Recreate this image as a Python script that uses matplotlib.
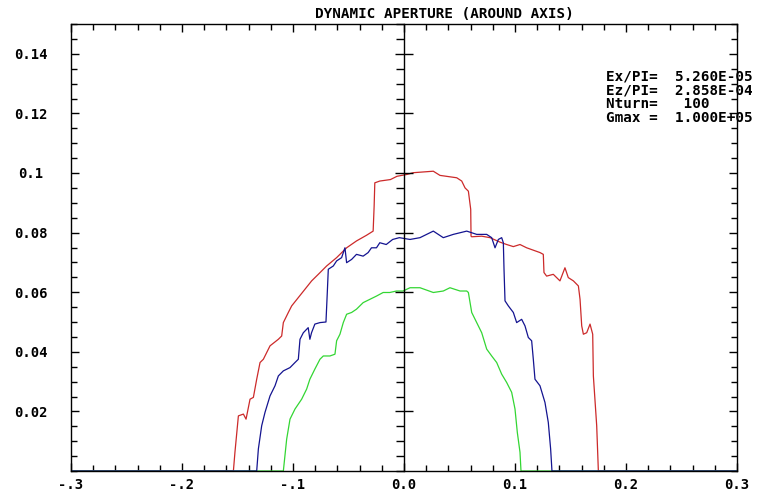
import numpy as np
import matplotlib
matplotlib.use("Agg")
import matplotlib.pyplot as plt

# curves (x, y)
red_x = [-0.3, -0.1537, -0.1523, -0.1492, -0.1447, -0.1423, -0.1387, -0.1357, -0.1327, -0.1297,
         -0.1267, -0.1207, -0.1132, -0.1102, -0.1087, -0.1042, -0.1012, -0.0952, -0.0892, -0.0832,
         -0.0772, -0.0697, -0.0607, -0.0517, -0.0428, -0.0338, -0.0278, -0.0269, -0.0263, -0.0218,
         -0.0122, -0.0063, 0.0024, 0.0084, 0.0264, 0.0324, 0.0475, 0.0520, 0.0550, 0.0580,
         0.0601, 0.0604, 0.0610, 0.0700, 0.0775, 0.0865, 0.0925, 0.0985, 0.1045, 0.1105,
         0.1165, 0.1225, 0.1255, 0.1261, 0.1285, 0.1345, 0.1405, 0.1450, 0.1480, 0.1526,
         0.1571, 0.1586, 0.1601, 0.1616, 0.1646, 0.1676, 0.1700, 0.1706, 0.1736, 0.1751, 0.3]
red_y = [0.0, 0.0, 0.0063, 0.0185, 0.0191, 0.0174, 0.0241, 0.0247, 0.0308, 0.0364,
         0.0375, 0.0420, 0.0442, 0.0453, 0.0498, 0.0532, 0.0554, 0.0582, 0.0610, 0.0638,
         0.0660, 0.0688, 0.0716, 0.0749, 0.0772, 0.0791, 0.0805, 0.0889, 0.0967, 0.0973,
         0.0978, 0.0989, 0.0995, 0.1001, 0.1006, 0.0992, 0.0984, 0.0973, 0.0950, 0.0939,
         0.0878, 0.0788, 0.0786, 0.0788, 0.0783, 0.0768, 0.0760, 0.0753, 0.0760, 0.0749,
         0.0741, 0.0733, 0.0727, 0.0666, 0.0654, 0.0660, 0.0638, 0.0682, 0.0649, 0.0638,
         0.0621, 0.0576, 0.0487, 0.0459, 0.0464, 0.0493, 0.0459, 0.0319, 0.0152, 0.0, 0.0]

blue_x = [-0.3, -0.1327, -0.1312, -0.1282, -0.1252, -0.1207, -0.1162, -0.1132, -0.1087, -0.1027,
          -0.0982, -0.0952, -0.0937, -0.0907, -0.0863, -0.0848, -0.0833, -0.0803, -0.0757, -0.0703,
          -0.0691, -0.0682, -0.0637, -0.0607, -0.0562, -0.0532, -0.0517, -0.0472, -0.0428, -0.0368,
          -0.0323, -0.0293, -0.0248, -0.0218, -0.0160, -0.0102, -0.0042, 0.0054, 0.0144, 0.0264,
          0.0354, 0.0444, 0.0565, 0.0655, 0.0745, 0.0790, 0.0820, 0.0850, 0.0880, 0.0895,
          0.0901, 0.0910, 0.0940, 0.0985, 0.1015, 0.1060, 0.1090, 0.1120, 0.1150, 0.1165,
          0.1180, 0.1225, 0.1270, 0.1300, 0.1321, 0.1333, 0.3]
blue_y = [0.0, 0.0, 0.0074, 0.0152, 0.0197, 0.0252, 0.0286, 0.0319, 0.0336, 0.0347,
          0.0364, 0.0375, 0.0442, 0.0464, 0.0481, 0.0442, 0.0464, 0.0493, 0.0498, 0.0500,
          0.0599, 0.0677, 0.0688, 0.0705, 0.0716, 0.0749, 0.0699, 0.0710, 0.0727, 0.0721,
          0.0733, 0.0749, 0.0749, 0.0766, 0.0760, 0.0777, 0.0783, 0.0777, 0.0783, 0.0805,
          0.0783, 0.0794, 0.0805, 0.0794, 0.0794, 0.0783, 0.0749, 0.0777, 0.0783, 0.0766,
          0.0677, 0.0571, 0.0554, 0.0532, 0.0498, 0.0509, 0.0487, 0.0448, 0.0437, 0.0375,
          0.0308, 0.0286, 0.0230, 0.0163, 0.0074, 0.0, 0.0]

green_x = [-0.3, -0.1087, -0.1057, -0.1027, -0.0982, -0.0922, -0.0877, -0.0848, -0.0803, -0.0757,
           -0.0727, -0.0667, -0.0622, -0.0607, -0.0577, -0.0547, -0.0517, -0.0472, -0.0428, -0.0368,
           -0.0308, -0.0248, -0.0188, -0.0128, -0.0068, -0.0008, 0.0054, 0.0144, 0.0264, 0.0354,
           0.0414, 0.0505, 0.0565, 0.0580, 0.0610, 0.0655, 0.0700, 0.0745, 0.0790, 0.0835,
           0.0880, 0.0925, 0.0970, 0.1000, 0.1021, 0.1045, 0.1054, 0.3]
green_y = [0.0, 0.0, 0.0107, 0.0174, 0.0208, 0.0241, 0.0275, 0.0308, 0.0342, 0.0375,
           0.0386, 0.0386, 0.0392, 0.0437, 0.0459, 0.0498, 0.0526, 0.0532, 0.0543, 0.0565,
           0.0576, 0.0587, 0.0599, 0.0599, 0.0604, 0.0604, 0.0615, 0.0615, 0.0599, 0.0604,
           0.0615, 0.0604, 0.0604, 0.0599, 0.0532, 0.0498, 0.0464, 0.0409, 0.0386, 0.0364,
           0.0325, 0.0297, 0.0264, 0.0208, 0.0129, 0.0063, 0.0, 0.0]

xtick_vals = [-0.3, -0.2, -0.1, 0.0, 0.1, 0.2, 0.3]
xtick_labels = ["-.3", "-.2", "-.1", "0.0", "0.1", "0.2", "0.3"]
ytick_vals = [0.02, 0.04, 0.06, 0.08, 0.1, 0.12, 0.14]
ytick_labels = ["0.02", "0.04", "0.06", "0.08", "0.1", "0.12", "0.14"]
info_lines = ["Ex/PI=  5.260E-05", "Ez/PI=  2.858E-04", "Nturn=   100", "Gmax =  1.000E+05"]
title = "DYNAMIC APERTURE (AROUND AXIS)"

mono = "DejaVu Sans Mono"
W, H = 757, 495
fig = plt.figure(figsize=(W / 100, H / 100), dpi=100)
rect = [71 / W, 1 - 471 / H, (737 - 71) / W, (471 - 24) / H]
ax = fig.add_axes(rect)

ax.plot(red_x, red_y, color="#cc2a2a", lw=0.9)
ax.plot(green_x, green_y, color="#33d633", lw=0.9)
ax.plot(blue_x, blue_y, color="#141490", lw=0.9)

ax.set_xlim(-0.3, 0.3)
ax.set_ylim(0, 0.15)
ax.set_xticks(xtick_vals)
ax.set_xticklabels(xtick_labels)
ax.set_xticks(np.arange(-0.3, 0.301, 0.02), minor=True)
ax.set_yticks(ytick_vals)
ax.set_yticklabels(ytick_labels)
ax.set_yticks(np.arange(0, 0.1501, 0.005), minor=True)
ax.tick_params(which="both", direction="in", top=True, right=True, width=1)
ax.tick_params(which="major", length=6)
ax.tick_params(which="minor", length=4)
ax.tick_params(axis="x", pad=5)
ax.tick_params(axis="y", pad=29)
for lab in ax.get_xticklabels() + ax.get_yticklabels():
    lab.set_fontfamily(mono)
    lab.set_fontweight("bold")
    lab.set_fontsize(10)
for lab in ax.get_yticklabels():
    lab.set_horizontalalignment("center")
for s in ax.spines.values():
    s.set_linewidth(1)

# vertical axis through x = 0
ax2 = fig.add_axes(rect)
ax2.patch.set_visible(False)
ax2.set_xlim(-0.3, 0.3)
ax2.set_ylim(0, 0.15)
for side in ["top", "right", "bottom"]:
    ax2.spines[side].set_visible(False)
ax2.spines["left"].set_position(("data", 0))
ax2.spines["left"].set_linewidth(1)
ax2.set_xticks([])
ax2.set_yticks(ytick_vals)
ax2.set_yticks(np.arange(0, 0.1501, 0.005), minor=True)
ax2.tick_params(axis="y", which="major", direction="inout", length=13, width=1, labelleft=False)
ax2.tick_params(axis="y", which="minor", direction="out", length=6, width=1)

fig.text(444 / W, 1 - 14 / H, title, ha="center", va="center",
         fontfamily=mono, fontweight="bold", fontsize=10.3)
for i, line in enumerate(info_lines):
    fig.text(606 / W, 1 - (77 + 13.7 * i) / H, line, ha="left", va="center",
             fontfamily=mono, fontweight="bold", fontsize=10.3)

fig.savefig("out.png", dpi=100)
